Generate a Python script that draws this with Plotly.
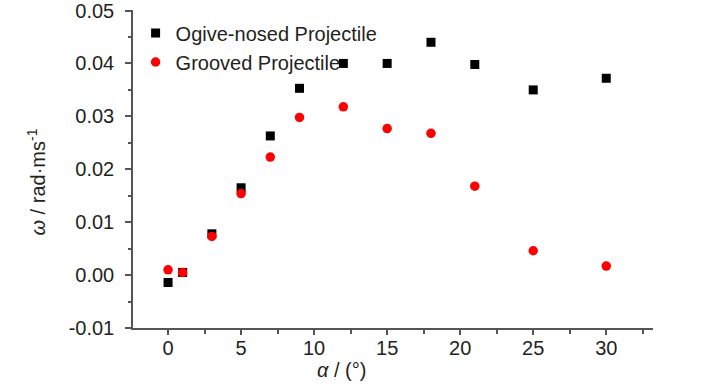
import plotly.graph_objects as go

# Data
alpha_ogive = [0, 1, 3, 5, 7, 9, 12, 15, 18, 21, 25, 30]
omega_ogive = [-0.0014, 0.0005, 0.0078, 0.0165, 0.0263, 0.0353, 0.0400, 0.0400, 0.0440, 0.0398, 0.0350, 0.0372]

alpha_groove = [0, 1, 3, 5, 7, 9, 12, 15, 18, 21, 25, 30]
omega_groove = [0.0010, 0.0005, 0.0073, 0.0154, 0.0223, 0.0298, 0.0318, 0.0277, 0.0268, 0.0168, 0.0046, 0.0017]

x_ticks = [0, 5, 10, 15, 20, 25, 30]
y_ticks = [-0.01, 0.00, 0.01, 0.02, 0.03, 0.04, 0.05]
y_ticklabels = ["-0.01", "0.00", "0.01", "0.02", "0.03", "0.04", "0.05"]

FONT = "Liberation Sans, Arial, sans-serif"
TXT = "#231f20"

fig = go.Figure()
fig.add_trace(go.Scatter(
    x=alpha_ogive, y=omega_ogive, mode="markers", name="Ogive-nosed Projectile",
    marker=dict(symbol="square", size=9, color="#000000", line=dict(width=0)),
    cliponaxis=False,
))
fig.add_trace(go.Scatter(
    x=alpha_groove, y=omega_groove, mode="markers", name="Grooved Projectile",
    marker=dict(symbol="circle", size=9.5, color="#ff0000", line=dict(width=0)),
    cliponaxis=False,
))

axis_common = dict(
    showgrid=False, zeroline=False, showline=True, linecolor="#555555", linewidth=1.5,
    ticks="outside", tickcolor="#555555", tickwidth=1.5, ticklabeloverflow="allow",
    tickfont=dict(family=FONT, size=20, color=TXT),
)

fig.update_xaxes(
    range=[-2.4, 33.2], tickvals=x_ticks, ticklen=5, ticklabelstandoff=-4,
    minor=dict(dtick=2.5, tick0=0, ticks="outside", ticklen=4, tickcolor="#555555", tickwidth=1.5),
    **axis_common,
)
fig.update_yaxes(
    range=[-0.01, 0.0501], tickvals=y_ticks, ticktext=y_ticklabels, ticklen=6, ticklabelstandoff=7,
    minor=dict(dtick=0.005, tick0=0, ticks="outside", ticklen=3, tickcolor="#555555", tickwidth=1.5),
    **axis_common,
)

fig.update_layout(
    width=728, height=390,
    margin=dict(l=133, r=75, t=10, b=62, autoexpand=False),
    paper_bgcolor="white", plot_bgcolor="white",
    showlegend=True,
    legend=dict(
        x=0.005, y=0.989, xanchor="left", yanchor="top",
        traceorder="normal",
        font=dict(family=FONT, size=20, color=TXT),
        bgcolor="rgba(0,0,0,0)", itemwidth=30,
    ),
    annotations=[
        dict(text="<i>ω</i> / rad·ms<sup>-1</sup>", xref="paper", yref="paper",
             x=-0.185, y=0.46, xanchor="center", yanchor="middle", textangle=-90,
             showarrow=False, font=dict(family=FONT, size=20, color=TXT)),
        dict(text="<i>α</i> / (°)", xref="paper", yref="paper",
             x=0.4, y=-0.133, xanchor="center", yanchor="middle",
             showarrow=False, font=dict(family=FONT, size=20, color=TXT)),
    ],
)

fig.write_html("out.html", config={"displayModeBar": False},
               post_script="document.body.style.margin='0';")
